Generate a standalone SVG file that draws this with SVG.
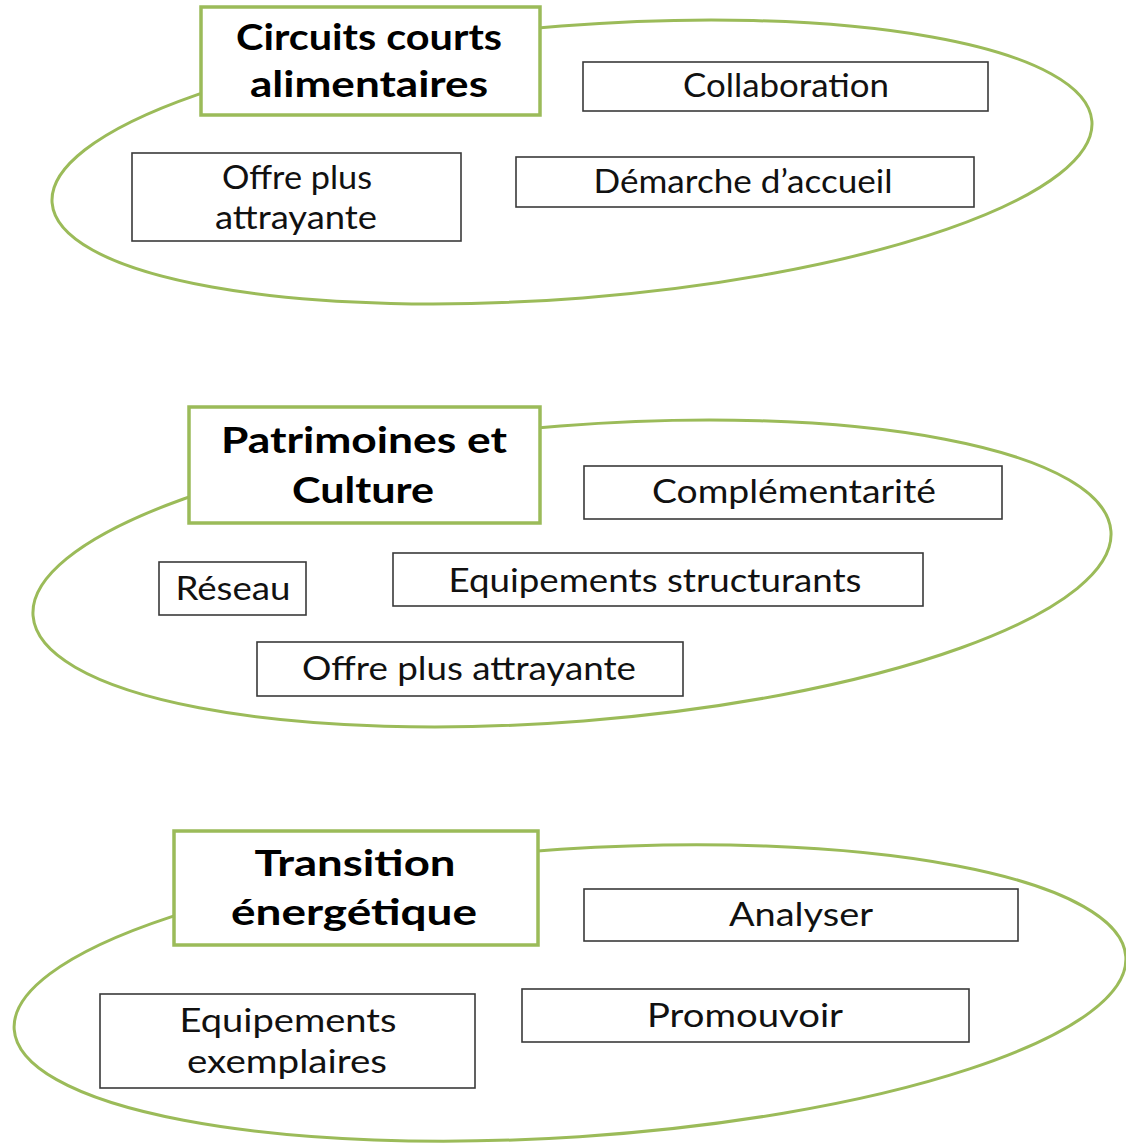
<svg xmlns="http://www.w3.org/2000/svg" width="1126" height="1144" viewBox="0 0 1126 1144">
<style>
.ell{fill:none;stroke:#9BBB59;stroke-width:3}
.title{fill:#fff;stroke:#9BBB59;stroke-width:3.5}
.box{fill:#fff;stroke:#3a3a3a;stroke-width:1.6}
.tt{font-family:Lato,"Liberation Sans",sans-serif;font-weight:bold;font-size:37px;fill:#000;text-anchor:middle}
.t{font-family:Lato,"Liberation Sans",sans-serif;font-size:32px;fill:#111;text-anchor:middle}
</style>
<rect width="1126" height="1144" fill="#fff"/>
<g id="connectors"></g>
<g id="group1">
<ellipse class="ell" cx="572" cy="162" rx="521.5" ry="136.3" transform="rotate(-4.5 572 162)"/>
<g id="title1"><rect class="title" x="201" y="7" width="339" height="108"/>
<text class="tt" x="369" y="50" textLength="266" lengthAdjust="spacingAndGlyphs">Circuits courts</text>
<text class="tt" x="369" y="97" textLength="238" lengthAdjust="spacingAndGlyphs">alimentaires</text></g>
<g id="collaboration"><rect class="box" x="583" y="62" width="405" height="49"/>
<text class="t" x="786" y="97" textLength="206" lengthAdjust="spacingAndGlyphs">Collaboration</text></g>
<g id="offre1"><rect class="box" x="132" y="153" width="329" height="88"/>
<text class="t" x="297" y="189" textLength="150" lengthAdjust="spacingAndGlyphs">Offre plus</text>
<text class="t" x="296" y="229" textLength="162" lengthAdjust="spacingAndGlyphs">attrayante</text></g>
<g id="demarche"><rect class="box" x="516" y="157" width="458" height="50"/>
<text class="t" x="743" y="193" textLength="299" lengthAdjust="spacingAndGlyphs">Démarche d’accueil</text></g>
</g>
<g id="group2">
<ellipse class="ell" cx="572" cy="573.5" rx="540.6" ry="147.9" transform="rotate(-4.5 572 573.5)"/>
<g id="title2"><rect class="title" x="189" y="407" width="351" height="116"/>
<text class="tt" x="364" y="453" textLength="286" lengthAdjust="spacingAndGlyphs">Patrimoines et</text>
<text class="tt" x="363" y="503" textLength="142" lengthAdjust="spacingAndGlyphs">Culture</text></g>
<g id="complementarite"><rect class="box" x="584" y="466" width="418" height="53"/>
<text class="t" x="794" y="503" textLength="284" lengthAdjust="spacingAndGlyphs">Complémentarité</text></g>
<g id="reseau"><rect class="box" x="159" y="562" width="147" height="53"/>
<text class="t" x="233" y="600" textLength="115" lengthAdjust="spacingAndGlyphs">Réseau</text></g>
<g id="equipements"><rect class="box" x="393" y="553" width="530" height="53"/>
<text class="t" x="655" y="592" textLength="413" lengthAdjust="spacingAndGlyphs">Equipements structurants</text></g>
<g id="offre2"><rect class="box" x="257" y="642" width="426" height="54"/>
<text class="t" x="469" y="680" textLength="334" lengthAdjust="spacingAndGlyphs">Offre plus attrayante</text></g>
</g>
<g id="group3">
<ellipse class="ell" cx="570" cy="993" rx="557" ry="144" transform="rotate(-3.74 570 993)"/>
<g id="title3"><rect class="title" x="174" y="831" width="364" height="114"/>
<text class="tt" x="355" y="876" textLength="201" lengthAdjust="spacingAndGlyphs">Transition</text>
<text class="tt" x="354" y="925" textLength="246" lengthAdjust="spacingAndGlyphs">énergétique</text></g>
<g id="analyser"><rect class="box" x="584" y="889" width="434" height="52"/>
<text class="t" x="801" y="926" textLength="144" lengthAdjust="spacingAndGlyphs">Analyser</text></g>
<g id="equipements2"><rect class="box" x="100" y="994" width="375" height="94"/>
<text class="t" x="288" y="1032" textLength="217" lengthAdjust="spacingAndGlyphs">Equipements</text>
<text class="t" x="287" y="1073" textLength="200" lengthAdjust="spacingAndGlyphs">exemplaires</text></g>
<g id="promouvoir"><rect class="box" x="522" y="989" width="447" height="53"/>
<text class="t" x="745" y="1027" textLength="196" lengthAdjust="spacingAndGlyphs">Promouvoir</text></g>
</g>
</svg>
